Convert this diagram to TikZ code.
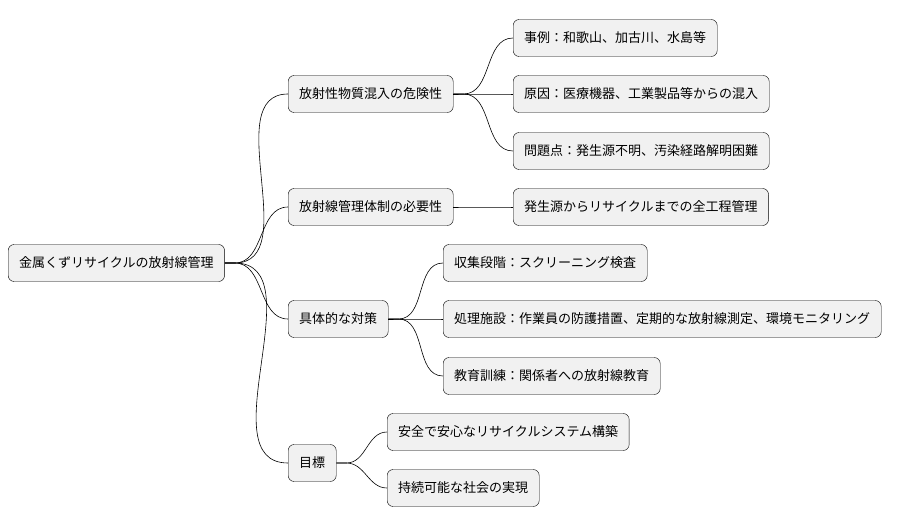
\documentclass[tikz,border=0pt]{standalone}
\usepackage{fontspec}
\setmainfont{Noto Sans CJK JP}
\usetikzlibrary{positioning}
\definecolor{boxfill}{HTML}{F1F1F1}
\begin{document}
\begin{tikzpicture}[x=1pt,y=-1pt]
\tikzstyle{topic}=[rectangle, rounded corners=6pt, draw=black, fill=boxfill, minimum height=37pt, inner xsep=11pt, anchor=west, font=\fontsize{13}{15}\selectfont]
\tikzstyle{branch}=[black, line width=0.6pt]
\useasboundingbox (0,0) rectangle (922,527);
% root
\node[topic] (root) at (8,263) {金属くずリサイクルの放射線管理};
% first level
\node[topic] (risk) at (288,94) {放射性物質混入の危険性};
\node[topic] (need) at (288,207) {放射線管理体制の必要性};
\node[topic] (meas) at (288,319) {具体的な対策};
\node[topic] (goal) at (288,463) {目標};
% second level
\node[topic] (case) at (513,38) {事例：和歌山、加古川、水島等};
\node[topic] (cause) at (513,94) {原因：医療機器、工業製品等からの混入};
\node[topic] (prob) at (513,151) {問題点：発生源不明、汚染経路解明困難};
\node[topic] (whole) at (513,207) {発生源からリサイクルまでの全工程管理};
\node[topic] (coll) at (443,263) {収集段階：スクリーニング検査};
\node[topic] (proc) at (443,319) {処理施設：作業員の防護措置、定期的な放射線測定、環境モニタリング};
\node[topic] (edu) at (443,376) {教育訓練：関係者への放射線教育};
\node[topic] (safe) at (387,432) {安全で安心なリサイクルシステム構築};
\node[topic] (sust) at (387,488) {持続可能な社会の実現};

\foreach \p/\c in {root/risk,root/need,root/meas,root/goal,
  risk/case,risk/cause,risk/prob,need/whole,
  meas/coll,meas/proc,meas/edu,goal/safe,goal/sust}
  \draw[branch] (\p.east) -- ++(10,0) to[out=0,in=180] (\c.west);
\end{tikzpicture}
\end{document}
